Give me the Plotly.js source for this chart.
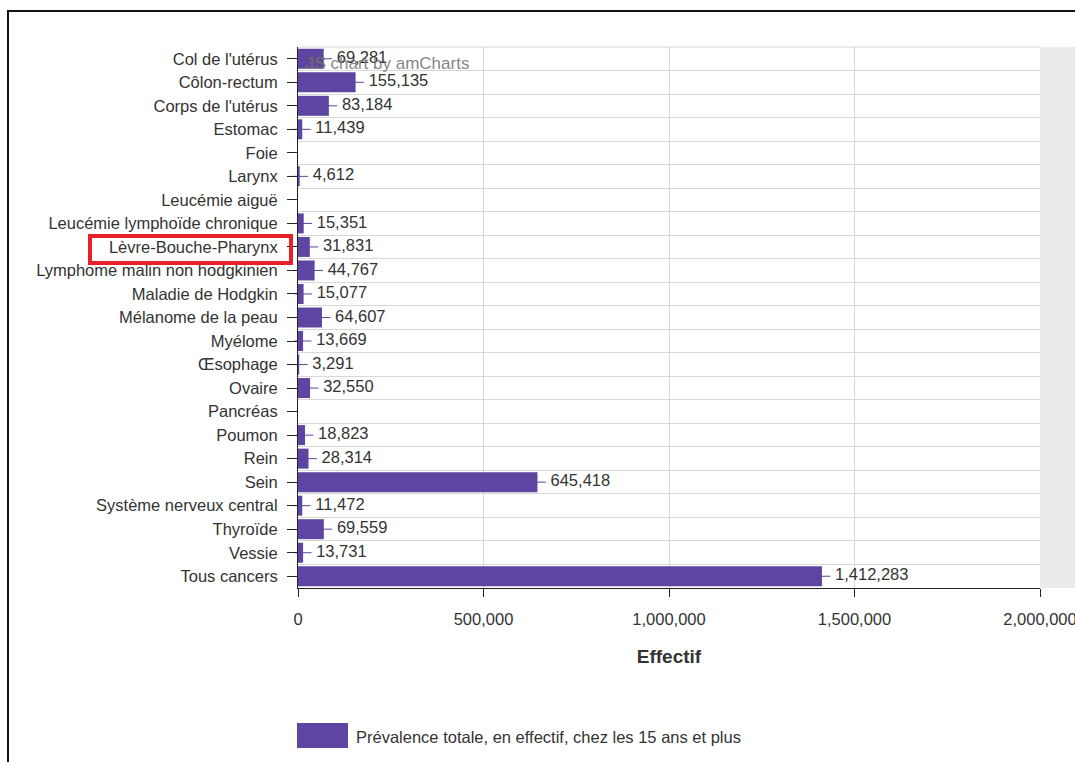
<!DOCTYPE html>
<html>
<head>
<meta charset="utf-8">
<script src="https://cdn.plot.ly/plotly-3.0.1.min.js"></script>
<style>html,body{margin:0;padding:0;background:#fff;}#chart{width:1075px;height:762px;}</style>
</head>
<body>
<div id="chart"></div>
<script>
const categories = [
  "Col de l'utérus", "Côlon-rectum", "Corps de l'utérus", "Estomac", "Foie", "Larynx",
  "Leucémie aiguë", "Leucémie lymphoïde chronique", "Lèvre-Bouche-Pharynx",
  "Lymphome malin non hodgkinien", "Maladie de Hodgkin", "Mélanome de la peau", "Myélome",
  "Œsophage", "Ovaire", "Pancréas", "Poumon", "Rein", "Sein", "Système nerveux central",
  "Thyroïde", "Vessie", "Tous cancers"
];
const values = [
  69281, 155135, 83184, 11439, null, 4612,
  null, 15351, 31831,
  44767, 15077, 64607, 13669,
  3291, 32550, null, 18823, 28314, 645418, 11472,
  69559, 13731, 1412283
];
const xTickValues = [0, 500000, 1000000, 1500000, 2000000];
const xTickLabels = ["0", "500,000", "1,000,000", "1,500,000", "2,000,000"];
const seriesName = "Prévalence totale, en effectif, chez les 15 ans et plus";
const axisTitle = "Effectif";

const purple = "#5d45a1";
const fontFam = "Liberation Sans, Arial, sans-serif";
const fs = 16.5;

const L = 298, R = 1040, T = 47, B = 588;
const W = 1075, H = 762;
const px = v => (v - L) / (R - L);
const py = v => (B - v) / (B - T);

const labels = values.map(v => v == null ? "" : " " + v.toLocaleString("en-US"));

const bars = {
  type: "bar", orientation: "h",
  x: values, y: categories,
  marker: {color: purple, line: {width: 0}},
  width: 0.85,
  name: seriesName,
  showlegend: false,
  hoverinfo: "x+y",
  xaxis: "x", yaxis: "y"
};
const ends = {
  type: "scatter", mode: "markers+text",
  x: values, y: categories,
  text: labels,
  textposition: "middle right",
  textfont: {family: fontFam, size: fs, color: "#333"},
  marker: {symbol: "line-ew-open", size: 12, color: purple, line: {color: purple, width: 1}},
  showlegend: false, hoverinfo: "skip",
  cliponaxis: false,
  xaxis: "x", yaxis: "y2"
};

const catRange = [categories.length - 0.5, -0.5];

const layout = {
  width: W, height: H,
  margin: {l: L, r: W - R, t: T, b: H - B, pad: 0},
  paper_bgcolor: "#fff", plot_bgcolor: "#fff",
  font: {family: fontFam, size: fs, color: "#333"},
  showlegend: false,
  xaxis: {
    range: [0, 2000000], fixedrange: true,
    tickvals: xTickValues, ticktext: xTickLabels,
    ticks: "outside", ticklen: 8, tickcolor: "#222", tickwidth: 1,
    ticklabelstandoff: 8,
    ticklabeloverflow: "allow",
    tickfont: {family: fontFam, size: fs, color: "#333"},
    showgrid: true, gridcolor: "#d8d8d8", gridwidth: 1,
    showline: true, linecolor: "#222", linewidth: 1,
    zeroline: false,
    title: {text: "<b>" + axisTitle + "</b>", font: {family: fontFam, size: 19, color: "#333"}, standoff: 22}
  },
  yaxis: {
    type: "category", categoryorder: "array", categoryarray: categories,
    range: catRange, fixedrange: true,
    ticks: "outside", ticklen: 10, tickcolor: "#222", tickwidth: 1,
    ticklabelstandoff: 6,
    tickfont: {family: fontFam, size: fs, color: "#333"},
    showgrid: false,
    showline: true, linecolor: "#222", linewidth: 1,
    zeroline: false
  },
  yaxis2: {
    type: "category", categoryorder: "array", categoryarray: categories,
    range: catRange, fixedrange: true,
    overlaying: "y", side: "left",
    tickson: "boundaries", ticks: "",
    showticklabels: false,
    showgrid: true, gridcolor: "#d8d8d8", gridwidth: 1,
    showline: false, zeroline: false
  },
  shapes: [
    {type: "rect", xref: "paper", yref: "paper", x0: 1, x1: px(1080), y0: 0, y1: 1,
     fillcolor: "#ebebeb", line: {width: 0}, layer: "below"},
    {type: "line", xref: "paper", yref: "paper", x0: 0, x1: 1, y0: 1, y1: 1,
     line: {color: "#d8d8d8", width: 1}, layer: "below"},
    {type: "rect", xref: "paper", yref: "paper", x0: px(8), x1: px(1090), y0: py(780), y1: py(11),
     line: {color: "#111", width: 2}, fillcolor: "rgba(0,0,0,0)"},
    {type: "rect", xref: "paper", yref: "paper", x0: px(90), x1: px(291), y0: py(263), y1: py(236),
     line: {color: "#e8202a", width: 4}, fillcolor: "rgba(0,0,0,0)"},
    {type: "rect", xref: "paper", yref: "paper", x0: px(297), x1: px(348), y0: py(748), y1: py(723),
     fillcolor: purple, line: {width: 0}}
  ],
  annotations: [
    {xref: "paper", yref: "paper", x: px(354), y: py(737), xanchor: "left", yanchor: "middle",
     text: seriesName, showarrow: false, font: {family: fontFam, size: fs, color: "#333"}},
    {xref: "paper", yref: "paper", x: px(303), y: py(64), xanchor: "left", yanchor: "middle",
     text: "<b>JS</b> chart by amCharts", showarrow: false,
     font: {family: fontFam, size: 17, color: "rgba(110,110,110,0.85)"}}
  ]
};

Plotly.newPlot("chart", [bars, ends], layout, {displayModeBar: false, staticPlot: true});
</script>
</body>
</html>
